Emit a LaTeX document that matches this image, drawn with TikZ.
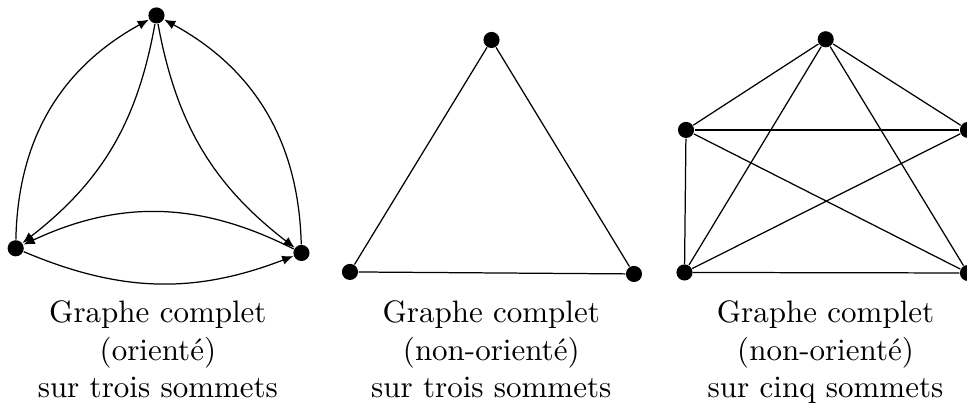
\documentclass[tikz,border=0pt]{standalone}
\usepackage{fontspec}
\usepackage{tikz}
\usetikzlibrary{positioning, arrows.meta}
\tikzset{
  sommet/.style={circle, fill=black, inner sep=0pt, minimum size=5.2pt},
  legende/.style={align=center, inner sep=0pt, anchor=north},
  fleche/.style={-{Latex[length=3.6pt,width=3pt]}}
}

\begin{document}
\begin{tikzpicture}
    \useasboundingbox (0,0) rectangle (10.964,4.58);
    % graphe oriente
    \node[sommet] (a1) at (1.774,4.405) {};
    \node[sommet] (b1) at (0.178,1.765) {};
    \node[sommet] (c1) at (3.418,1.712) {};
    \draw[fleche] (b1) to[bend left=30] (a1);
    \draw[fleche] (c1) to[bend right=30] (a1);
    \draw[fleche] (a1) to[bend left=21] (b1);
    \draw[fleche] (a1) to[bend right=21] (c1);
    \draw[fleche] (b1) to[bend right=22] (c1);
    \draw[fleche] (c1) to[bend right=26] (b1);
    \node[legende] (leg1) at (1.79,1.173) {Graphe complet\\(orienté)\\sur trois sommets};

    % trois sommets
    \node[sommet] (a2) at (5.573,4.127) {};
    \node[sommet] (b2) at (3.968,1.497) {};
    \node[sommet] (c2) at (7.188,1.474) {};
    \draw (a2) -- (b2) -- (c2) -- (a2);
    \node[legende] (leg2) at (5.57,1.173) {Graphe complet\\(non-orienté)\\sur trois sommets};

    % cinq sommets
    \node[sommet] (a3) at (9.362,4.135) {};
    \node[sommet] (b3) at (7.778,3.107) {};
    \node[sommet] (c3) at (10.975,3.107) {};
    \node[sommet] (d3) at (7.761,1.491) {};
    \node[sommet] (e3) at (10.975,1.485) {};
    \foreach \u/\v in {a3/b3, a3/c3, a3/d3, a3/e3, b3/c3, b3/d3, b3/e3, c3/d3, d3/e3}
      \draw (\u) -- (\v);
    \node[legende] (leg3) at (9.36,1.173) {Graphe complet\\(non-orienté)\\sur cinq sommets};
\end{tikzpicture}
\end{document}
